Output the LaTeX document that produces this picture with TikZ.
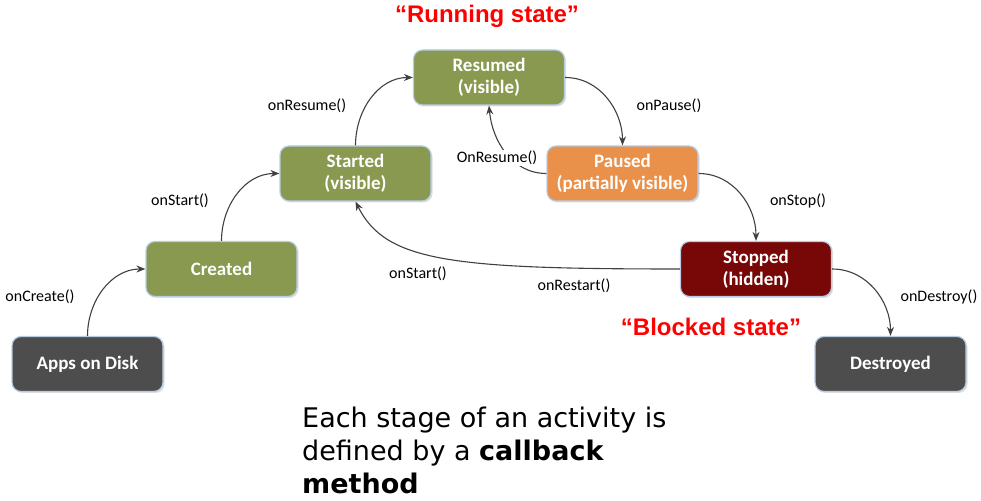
\documentclass[tikz,border=0pt]{standalone}
\usepackage{fontspec}
\setmainfont{Carlito}
\newfontfamily\headfont{Liberation Sans}
\newfontfamily\notefont{DejaVu Sans}
\usetikzlibrary{arrows.meta, positioning, shadows}

\definecolor{stgreen}{RGB}{137,153,79}
\definecolor{storange}{RGB}{233,145,75}
\definecolor{stred}{RGB}{120,8,8}
\definecolor{stgray}{RGB}{77,77,77}
\definecolor{stborder}{RGB}{184,204,228}
\definecolor{flowgray}{RGB}{64,64,64}

\begin{document}
\begin{tikzpicture}[x=1pt, y=1pt,
    stage/.style={draw=stborder, line width=1.2pt, rounded corners=9pt,
      minimum width=151pt, minimum height=55pt, inner sep=0pt,
      text=white, align=center, font=\fontsize{19}{22}\selectfont\bfseries,
      drop shadow={shadow xshift=1.5pt, shadow yshift=-1.5pt, opacity=0.25}},
    flow/.style={-{Stealth[length=9pt, width=7pt]}, line width=1.1pt, draw=flowgray},
    call/.style={font=\fontsize{16}{19}\selectfont, text=black, inner sep=1pt}]
    \useasboundingbox (0,0) rectangle (981,500);

    \node[stage, fill=stgray] (disk) at (87.5,136) {Apps on Disk};
    \node[stage, fill=stgreen] (created) at (221.5,231) {Created};
    \node[stage, fill=stgreen] (started) at (355.5,326.5) {Started\\(visible)};
    \node[stage, fill=stgreen] (resumed) at (489,422.5) {Resumed\\(visible)};
    \node[stage, fill=storange] (paused) at (622.5,326.5) {Paused\\(partially visible)};
    \node[stage, fill=stred] (stopped) at (756,231) {Stopped\\(hidden)};
    \node[stage, fill=stgray] (destroyed) at (890.5,136) {Destroyed};

    \draw[flow] (disk.north) to[out=90, in=180] (created.west);
    \draw[flow] (created.north) to[out=90, in=180] (started.west);
    \draw[flow] (started.north) to[out=90, in=180] (resumed.west);
    \draw[flow] (resumed.east) to[out=0, in=90] (paused.north);
    \draw[flow] (paused.west) to[out=180, in=-85] (resumed.south);
    \draw[flow] (paused.east) to[out=0, in=90] (stopped.north);
    \draw[flow] (stopped.west) .. controls +(-230,0) and +(30,-60) .. (started.south);
    \draw[flow] (stopped.east) to[out=0, in=90] (destroyed.north);

    \node[call] (lcreate) at (40,203) {onCreate()};
    \node[call] (lstart) at (180,299) {onStart()};
    \node[call] (lresume) at (307,394) {onResume()};
    \node[call] (lpause) at (669,394) {onPause()};
    \node[call, fill=white] (lback) at (497,342) {OnResume()};
    \node[call] (lstop) at (798,299) {onStop()};
    \node[call] (lrestart1) at (418,226) {onStart()};
    \node[call] (lrestart2) at (574,214) {onRestart()};
    \node[call] (ldestroy) at (939,203) {onDestroy()};

    \node[text=red, font=\headfont\fontsize{24}{28}\selectfont\bfseries] (running) at (487,484) {“Running state”};
    \node[text=red, font=\headfont\fontsize{24}{28}\selectfont\bfseries] (blocked) at (711,173) {“Blocked state”};

    \node[anchor=north west, inner sep=0pt, align=left,
      font=\notefont\fontsize{27}{33}\selectfont] (note) at (302,93)
      {Each stage of an activity is\\defined by a \textbf{callback}\\\textbf{method}};
  \end{tikzpicture}
\end{document}
